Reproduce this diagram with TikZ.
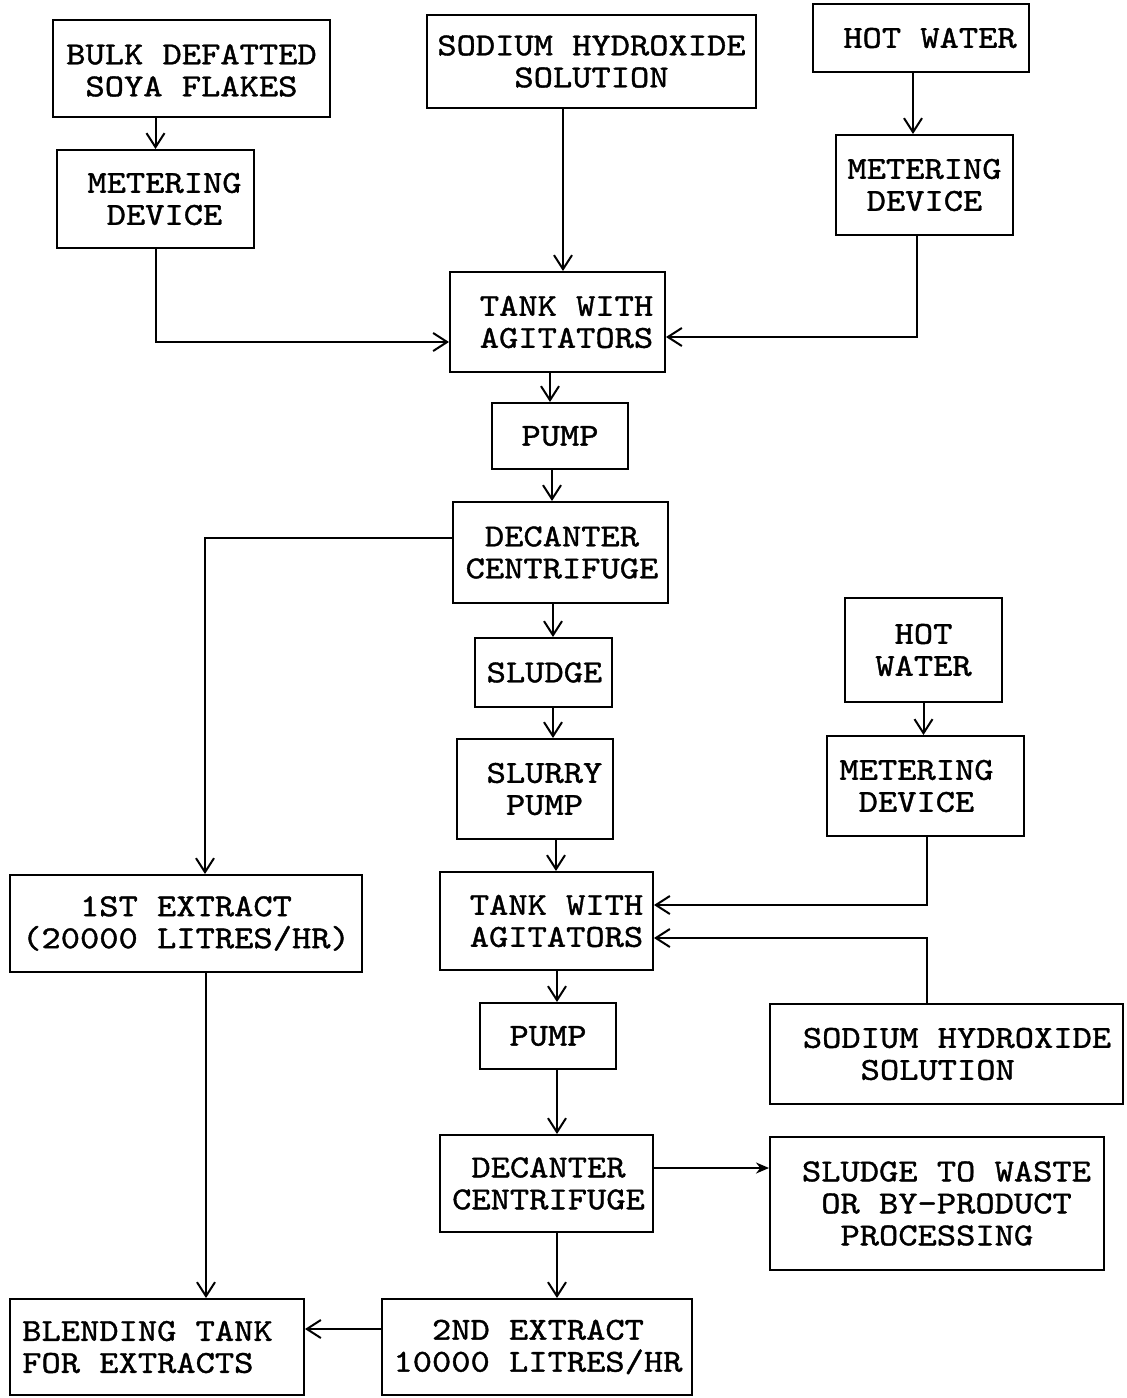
\documentclass[tikz,border=0pt]{standalone}
\usepackage{fontspec}
\newfontfamily\typew{lmmono10-regular}[Extension=.otf, FakeStretch=1.147, FakeBold=1.2]
\usetikzlibrary{arrows.meta,calc}
\begin{document}
\begin{tikzpicture}[x=1pt,y=-1pt,
  bx/.style={draw, line width=2pt, inner sep=0pt},
  tx/.style={inner sep=0pt, align=center, font=\typew\fontsize{32}{32}\selectfont},
  txl/.style={tx, align=left},
  sz/.style 2 args={minimum width=#1pt, minimum height=#2pt},
  arr/.style={line width=2pt, -{Straight Barb[length=14pt,width=18pt,line width=2pt]}},
  arrf/.style={line width=2pt, -{Stealth[length=13pt,width=11pt]}}]
\useasboundingbox (0,0) rectangle (1127,1398);

% boxes
\node[bx, sz={277}{97}]  (soya)   at (191.5,68.5) {};
\node[bx, sz={197}{98}]  (met1)   at (155.5,199)  {};
\node[bx, sz={329}{93}]  (naoh1)  at (591.5,61.5) {};
\node[bx, sz={216}{68}]  (hw1)    at (921,38)     {};
\node[bx, sz={177}{100}] (met2)   at (924.5,185)  {};
\node[bx, sz={215}{100}] (tank1)  at (557.5,322)  {};
\node[bx, sz={136}{66}]  (pump1)  at (560,436)    {};
\node[bx, sz={215}{101}] (dec1)   at (560.5,552.5){};
\node[bx, sz={137}{69}]  (sludge) at (543.5,672.5){};
\node[bx, sz={156}{100}] (slurry) at (535,789)    {};
\node[bx, sz={157}{104}] (hw2)    at (923.5,650)  {};
\node[bx, sz={197}{100}] (met3)   at (925.5,786)  {};
\node[bx, sz={213}{98}]  (tank2)  at (546.5,921)  {};
\node[bx, sz={352}{97}]  (ext1)   at (186,923.5)  {};
\node[bx, sz={136}{66}]  (pump2)  at (548,1036)   {};
\node[bx, sz={353}{100}] (naoh2)  at (946.5,1054) {};
\node[bx, sz={213}{97}]  (dec2)   at (546.5,1183.5){};
\node[bx, sz={334}{133}] (waste)  at (937,1203.5) {};
\node[bx, sz={294}{96}]  (blend)  at (157,1347)   {};
\node[bx, sz={310}{96}]  (ext2)   at (537,1347)   {};

% texts
\node[tx] (soyaT)   at ([yshift=-2pt]soya.center)   {BULK DEFATTED\\SOYA FLAKES};
\node[tx] (met1T)   at ([xshift=9pt]met1.center)    {METERING\\DEVICE};
\node[tx] (naoh1T)  at (naoh1.center)               {SODIUM HYDROXIDE\\SOLUTION};
\node[tx] (hw1T)    at ([xshift=9pt]hw1.center)     {HOT WATER};
\node[tx] (met2T)   at (met2.center)                {METERING\\DEVICE};
\node[tx] (tank1T)  at ([xshift=9pt]tank1.center)   {TANK WITH\\AGITATORS};
\node[tx] (pump1T)  at (pump1.center)               {PUMP};
\node[tx] (dec1T)   at ([xshift=1.5pt]dec1.center)  {DECANTER\\CENTRIFUGE};
\node[tx] (sludgeT) at ([xshift=1pt]sludge.center)  {SLUDGE};
\node[tx] (slurryT) at ([xshift=9.5pt]slurry.center){SLURRY\\PUMP};
\node[tx] (hw2T)    at (hw2.center)                 {HOT\\WATER};
\node[tx] (met3T)   at ([xshift=-9pt]met3.center)   {METERING\\DEVICE};
\node[tx] (tank2T)  at ([xshift=10pt]tank2.center)  {TANK WITH\\AGITATORS};
\node[tx] (ext1T)   at (ext1.center)                {1ST EXTRACT\\(20000 LITRES/HR)};
\node[tx] (pump2T)  at (pump2.center)               {PUMP};
\node[txl] (naoh2T) at ([xshift=10.5pt]naoh2.center){SODIUM HYDROXIDE\\\phantom{XXX}SOLUTION};
\node[tx] (dec2T)   at ([xshift=2pt]dec2.center)    {DECANTER\\CENTRIFUGE};
\node[txl] (wasteT) at ([xshift=9.5pt]waste.center) {SLUDGE TO WASTE\\\phantom{X}OR BY-PRODUCT\\\phantom{XX}PROCESSING};
\node[txl] (blendT) at ([xshift=-9.5pt]blend.center){BLENDING TANK\\FOR EXTRACTS};
\node[tx] (ext2T)   at ([xshift=1pt]ext2.center)    {2ND EXTRACT\\10000 LITRES/HR};

\coordinate (d2e) at ([yshift=15.5pt]dec2.east);
\coordinate (e2w) at ([yshift=18pt]ext2.west);

% connectors
\draw[arr] (met1.north |- soya.south) -- (met1.north);
\draw[arr] (met1.south) |- ([yshift=-20pt]tank1.west);
\draw[arr] ([xshift=5.5pt]tank1.north |- naoh1.south) -- ([xshift=5.5pt]tank1.north);
\draw[arr] ([xshift=-11.5pt]met2.north |- hw1.south) -- ([xshift=-11.5pt]met2.north);
\draw[arr] ([xshift=-7.5pt]met2.south) |- ([yshift=-15pt]tank1.east);
\draw[arr] ([xshift=-7.5pt]tank1.south) -- ([xshift=-7.5pt]tank1.south |- pump1.north);
\draw[arr] ([xshift=-8pt]pump1.south) -- ([xshift=-8pt]pump1.south |- dec1.north);
\draw[arr] ([yshift=14.5pt]dec1.west) -| ([xshift=19pt]ext1.north);
\draw[arr] ([xshift=9.5pt]sludge.north |- dec1.south) -- ([xshift=9.5pt]sludge.north);
\draw[arr] ([xshift=9.5pt]sludge.south) -- ([xshift=9.5pt]sludge.south |- slurry.north);
\draw[arr] ([xshift=21pt]slurry.south) -- ([xshift=21pt]slurry.south |- tank2.north);
\draw[arr] (hw2.south) -- (hw2.south |- met3.north);
\draw[arr] ([xshift=1.5pt]met3.south) |- ([yshift=16pt]tank2.east);
\draw[arr] ([xshift=-19.5pt]naoh2.north) |- ([yshift=-17pt]tank2.east);
\draw[arr] ([xshift=10.5pt]tank2.south) -- ([xshift=10.5pt]tank2.south |- pump2.north);
\draw[arr] ([xshift=9pt]pump2.south) -- ([xshift=9pt]pump2.south |- dec2.north);
\draw[arrf] (d2e) -- (waste.west |- d2e);
\draw[arr] ([xshift=10.5pt]dec2.south) -- ([xshift=10.5pt]dec2.south |- ext2.north);
\draw[arr] ([xshift=20pt]ext1.south) -- ([xshift=20pt]ext1.south |- blend.north);
\draw[arr] (e2w) -- (blend.east |- e2w);
\end{tikzpicture}
\end{document}
